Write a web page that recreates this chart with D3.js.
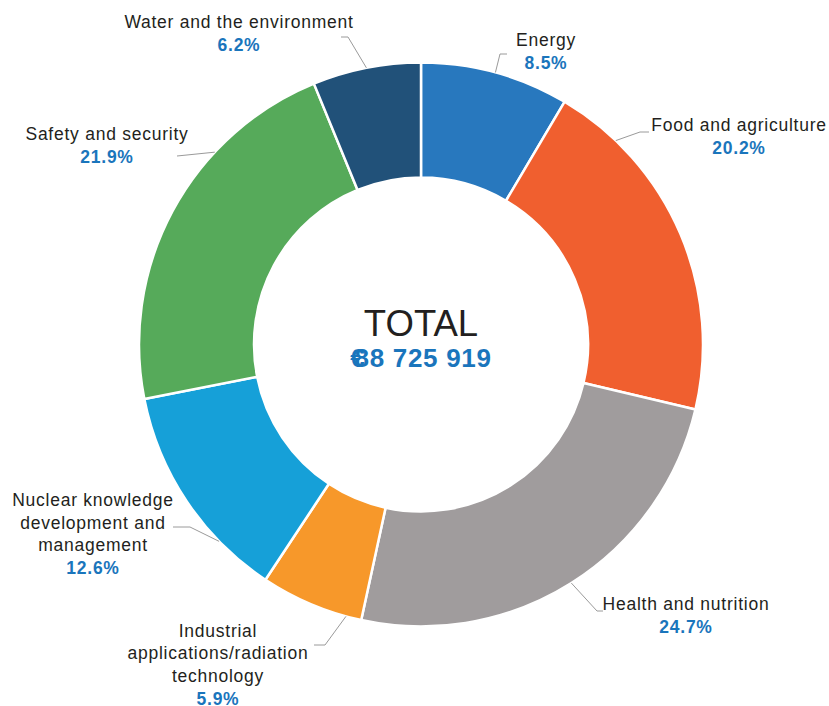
<!DOCTYPE html>
<html>
<head>
<meta charset="utf-8">
<script src="https://cdn.jsdelivr.net/npm/d3@7"></script>
<style>
  html, body { margin: 0; padding: 0; background: #fff; }
  svg { display: block; font-family: "Liberation Sans", Arial, sans-serif; }
</style>
</head>
<body>
<div id="chart"></div>
<script>
// Budget share by area, clockwise from 12 o'clock
const categories = ['Energy', 'Food and agriculture', 'Health and nutrition',
  'Industrial applications/radiation technology', 'Nuclear knowledge development and management',
  'Safety and security', 'Water and the environment'];
const shares = [8.5, 20.2, 24.7, 5.9, 12.6, 21.9, 6.2];
const colors = ['#2878be', '#f05f2f', '#a09c9d', '#f7982a', '#16a0d8', '#56aa5a', '#215179'];
const totalLabel = 'TOTAL';
const totalValue = '€88 725 919';

// label layout: text lines, anchor x, first baseline, elbow of the leader line,
// and where along the slice (0..1 of its angle) the leader touches the ring
const labelLayout = [
  { lines: ['Energy'], x: 546, y: 46, elbow: [[507, 54], [500, 54]], at: 0.5 },
  { lines: ['Food and agriculture'], x: 739, y: 131, elbow: [[649, 132], [640, 132]], at: 0.18 },
  { lines: ['Health and nutrition'], x: 686, y: 610, elbow: [[603, 611], [597, 611]], at: 0.5 },
  { lines: ['Industrial', 'applications/radiation', 'technology'], x: 218, y: 636.5, elbow: [[314, 645], [325, 645]], at: 0.15 },
  { lines: ['Nuclear knowledge', 'development and', 'management'], x: 93, y: 506, elbow: [[173, 527], [190, 527]], at: 0.27 },
  { lines: ['Safety and security'], x: 107, y: 140, elbow: [[177, 156], [177, 156]], at: 0.687 },
  { lines: ['Water and the environment'], x: 239, y: 28, elbow: [[341, 37], [348, 37]], at: 0.5 }
];

const W = 829, H = 706;
const cx = 421, cy = 344.5;
const outerR = 282, innerR = 167;
const lineH = 22.5;

const svg = d3.select('#chart').append('svg')
  .attr('width', W).attr('height', H).attr('viewBox', `0 0 ${W} ${H}`);

const pie = d3.pie().sort(null).value(d => d);
const arcs = pie(shares);
const arc = d3.arc().innerRadius(innerR).outerRadius(outerR);

const g = svg.append('g').attr('transform', `translate(${cx},${cy})`);

g.selectAll('path.slice')
  .data(arcs)
  .join('path')
  .attr('class', 'slice')
  .attr('d', arc)
  .attr('fill', (d, i) => colors[i])
  .attr('stroke', '#fff')
  .attr('stroke-width', 2.5)
  .attr('stroke-linejoin', 'round');

// leader lines: from the label elbow to the slice's outer edge
const leader = d3.line();
svg.selectAll('path.leader')
  .data(arcs)
  .join('path')
  .attr('class', 'leader')
  .attr('d', (d, i) => {
    const L = labelLayout[i];
    const a = d.startAngle + (d.endAngle - d.startAngle) * L.at;
    const end = [cx + outerR * Math.sin(a), cy - outerR * Math.cos(a)];
    return leader([...L.elbow, end]);
  })
  .attr('fill', 'none')
  .attr('stroke', '#9a9a9a')
  .attr('stroke-width', 1);

const labels = svg.selectAll('g.label')
  .data(arcs)
  .join('g')
  .attr('class', 'label');

labels.each(function (d, i) {
  const L = labelLayout[i];
  const t = d3.select(this).append('text')
    .attr('text-anchor', 'middle')
    .attr('font-size', 17.5)
    .attr('letter-spacing', 0.75);
  L.lines.forEach((ln, k) => {
    t.append('tspan').attr('x', L.x).attr('y', L.y + k * lineH)
      .attr('fill', '#231f20').text(ln);
  });
  t.append('tspan').attr('x', L.x).attr('y', L.y + L.lines.length * lineH + 0.5)
    .attr('fill', '#1a75bc').attr('font-weight', 'bold')
    .text(d3.format('.1f')(shares[i]) + '%');
});

// centre total
svg.append('text')
  .attr('x', cx).attr('y', 336)
  .attr('text-anchor', 'middle')
  .attr('font-size', 36.5)
  .attr('fill', '#231f20')
  .text(totalLabel);

const tv = svg.append('text')
  .attr('x', cx).attr('y', 367)
  .attr('text-anchor', 'middle')
  .attr('font-size', 26)
  .attr('font-weight', 'bold')
  .attr('letter-spacing', 0.7)
  .attr('fill', '#1a75bc');
tv.append('tspan').text(totalValue.slice(0, 1));
tv.append('tspan').attr('dx', -11).text(totalValue.slice(1));
</script>
</body>
</html>
